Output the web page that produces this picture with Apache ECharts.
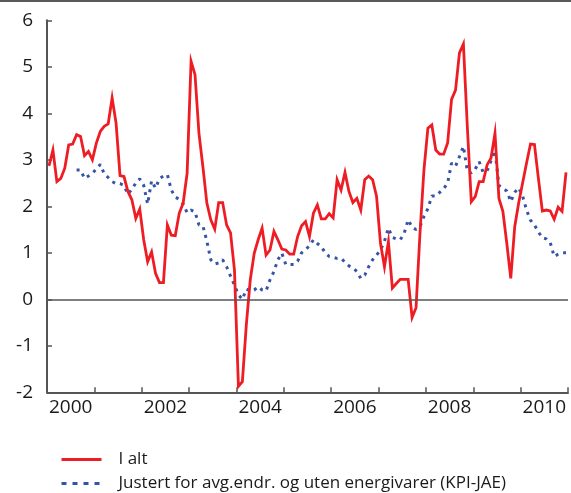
<!DOCTYPE html>
<html>
<head>
<meta charset="utf-8">
<script src="https://cdn.jsdelivr.net/npm/echarts@6/dist/echarts.min.js"></script>
<style>
html,body{margin:0;padding:0;background:#fff;}
#c{width:571px;height:493px;}
</style>
</head>
<body>
<div id="c"></div>
<script>
// Monthly values, Jan 2000 – Dec 2010 (percent, 12-month change)
var startYear = 2000;
var seriesNames = ['I alt', 'Justert for avg.endr. og uten energivarer (KPI-JAE)'];
var iAlt = [
  2.87, 3.21, 2.53, 2.60, 2.82, 3.32, 3.34, 3.54, 3.50, 3.09, 3.18, 3.00,
  3.36, 3.61, 3.72, 3.77, 4.33, 3.79, 2.66, 2.64, 2.32, 2.14, 1.74, 1.94,
  1.28, 0.81, 1.02, 0.56, 0.36, 0.36, 1.60, 1.38, 1.37, 1.85, 2.07, 2.71,
  5.12, 4.83, 3.57, 2.85, 2.07, 1.71, 1.51, 2.08, 2.08, 1.60, 1.43, 0.63,
  -1.87, -1.77, -0.55, 0.42, 0.99, 1.28, 1.53, 0.95, 1.06, 1.46, 1.28, 1.08,
  1.06, 0.97, 0.97, 1.35, 1.58, 1.67, 1.35, 1.85, 2.03, 1.73, 1.73, 1.84,
  1.75, 2.57, 2.35, 2.73, 2.32, 2.08, 2.17, 1.92, 2.57, 2.65, 2.57, 2.21,
  1.20, 0.70, 1.24, 0.24, 0.34, 0.43, 0.43, 0.43, -0.39, -0.18, 1.42, 2.78,
  3.68, 3.75, 3.21, 3.12, 3.12, 3.36, 4.30, 4.50, 5.30, 5.49, 3.70, 2.10,
  2.21, 2.53, 2.53, 2.89, 3.04, 3.57, 2.17, 1.89, 1.20, 0.45, 1.56, 2.07,
  2.50, 2.93, 3.34, 3.33, 2.60, 1.90, 1.92, 1.90, 1.72, 1.98, 1.89, 2.73
];
var kpiJae = [
  null, null, null, null, null, null, null, 2.78, 2.78, 2.60, 2.65, 2.71,
  2.80, 2.90, 2.70, 2.62, 2.53, 2.49, 2.49, 2.45, 2.26, 2.37, 2.50, 2.59,
  2.45, 2.05, 2.55, 2.39, 2.60, 2.65, 2.68, 2.35, 2.20, 2.15, 2.05, 1.86,
  1.92, 1.88, 1.60, 1.58, 1.25, 0.85, 0.76, 0.78, 0.85, 0.70, 0.50, 0.30,
  0.10, 0.00, 0.22, 0.18, 0.20, 0.27, 0.20, 0.18, 0.42, 0.60, 0.85, 0.99,
  0.75, 0.75, 0.75, 0.82, 1.00, 1.07, 1.15, 1.28, 1.20, 1.13, 1.00, 0.92,
  0.90, 0.88, 0.88, 0.80, 0.72, 0.68, 0.60, 0.45, 0.52, 0.70, 0.85, 0.95,
  1.06, 1.25, 1.53, 1.33, 1.30, 1.28, 1.42, 1.71, 1.55, 1.50, 1.56, 1.78,
  1.95, 2.22, 2.22, 2.30, 2.38, 2.50, 2.93, 2.86, 3.07, 3.29, 2.75, 2.72,
  2.80, 2.96, 2.73, 2.76, 2.98, 3.20, 2.45, 2.38, 2.33, 2.10, 2.30, 2.40,
  2.22, 1.92, 1.70, 1.60, 1.45, 1.32, 1.30, 1.22, 0.92, 0.97, 1.00, 1.00
];
var yearLabels = ['2000', '2002', '2004', '2006', '2008', '2010'];
var yTicks = [-2, -1, 0, 1, 2, 3, 4, 5, 6];

function toXY(arr) {
  return arr.map(function (v, i) { return [i + 0.5, v]; }); // mid-month
}
var nMonths = 132;
var FONT = '"Open Sans", "Noto Sans", sans-serif';
var RED = '#ee1d24', BLUE = '#3454a6';

var chart = echarts.init(document.getElementById('c'), null, {renderer: 'canvas'});
chart.setOption({
  animation: false,
  backgroundColor: '#ffffff',
  grid: {left: 47, right: 1, top: 20.3, bottom: 100.7, containLabel: false},
  graphic: [{
    type: 'line', shape: {x1: 0, y1: 1, x2: 571, y2: 1},
    style: {stroke: '#5a5a5a', lineWidth: 2}
  }],
  legend: {
    orient: 'vertical', left: 60, top: 451, padding: 0, itemWidth: 40, itemHeight: 14, itemGap: 7,
    itemStyle: {opacity: 0},
    textStyle: {fontFamily: FONT, fontSize: 17, lineHeight: 17, color: '#1a1a1a', padding: [0, 0, 0, 12]},
    data: [
      {name: seriesNames[0], lineStyle: {width: 2.8, color: RED}},
      {name: seriesNames[1], lineStyle: {type: [5, 6], width: 3, color: BLUE}}
    ]
  },
  xAxis: [{
    type: 'value', min: 0, max: nMonths, interval: 12,
    axisLine: {show: true, onZero: false, lineStyle: {color: '#555', width: 2}},
    axisTick: {show: true, inside: true, length: 5, lineStyle: {color: '#555', width: 1.5}},
    axisLabel: {show: false},
    splitLine: {show: false}
  }, {
    type: 'value', min: 0, max: nMonths, interval: 6, position: 'bottom',
    axisLine: {show: false}, axisTick: {show: false}, splitLine: {show: false},
    axisLabel: {
      show: true, margin: 6, fontFamily: FONT, fontSize: 19, color: '#1a1a1a',
      formatter: function (v) {
        if (v % 24 === 6) { var idx = (v - 6) / 24; return yearLabels[idx] || ''; }
        return '';
      }
    }
  }],
  yAxis: {
    type: 'value', min: yTicks[0], max: yTicks[yTicks.length - 1], interval: 1,
    axisLine: {show: true, onZero: false, lineStyle: {color: '#555', width: 2}},
    axisTick: {show: true, inside: true, length: 5, lineStyle: {color: '#555', width: 1.5}},
    axisLabel: {margin: 14, fontFamily: FONT, fontSize: 19, color: '#1a1a1a'},
    splitLine: {show: false}
  },
  series: [{
    name: seriesNames[0], type: 'line', xAxisIndex: 0, data: toXY(iAlt),
    showSymbol: false, symbol: 'none',
    lineStyle: {color: RED, width: 2.8, join: 'miter'},
    itemStyle: {color: RED},
    markLine: {
      silent: true, symbol: 'none', label: {show: false},
      lineStyle: {color: '#555', width: 1.5, type: 'solid'},
      data: [{yAxis: 0}]
    },
    z: 3
  }, {
    name: seriesNames[1], type: 'line', xAxisIndex: 0, data: toXY(kpiJae),
    showSymbol: false, symbol: 'none', connectNulls: false,
    lineStyle: {color: BLUE, width: 3, type: [3, 5], cap: 'butt'},
    itemStyle: {color: BLUE},
    z: 2
  }]
});
</script>
</body>
</html>
